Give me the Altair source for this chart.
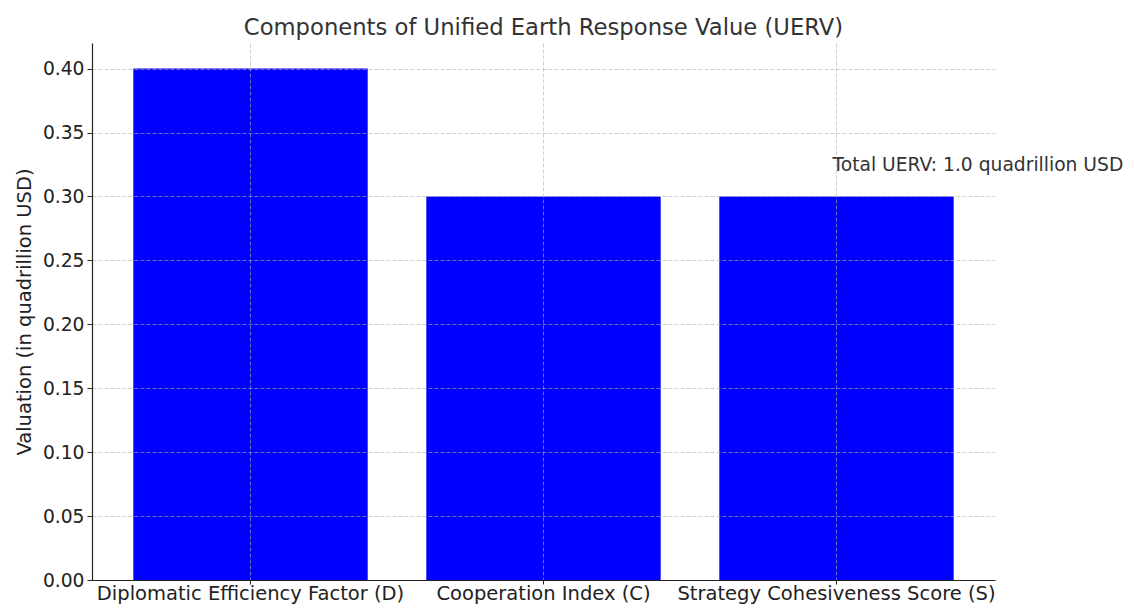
import altair as alt
import pandas as pd

categories = ["Diplomatic Efficiency Factor (D)", "Cooperation Index (C)", "Strategy Cohesiveness Score (S)"]
values = [0.4, 0.3, 0.3]
y_ticks = [0.0, 0.05, 0.10, 0.15, 0.20, 0.25, 0.30, 0.35, 0.40]
note_text = ["Total UERV: 1.0 quadrillion USD"]
note_cat = ["Strategy Cohesiveness Score (S)"]
note_y = [0.32]

df = pd.DataFrame({"cat": categories, "val": values})
note = pd.DataFrame({"cat": note_cat, "val": note_y, "label": note_text})

FONT = "DejaVu Sans"

xscale = alt.Scale(domain=categories, paddingInner=0.2, paddingOuter=0.141)
yscale = alt.Scale(domain=[0, 0.42], nice=False, zero=True)

bars = alt.Chart(df).mark_bar(color="#0000ff").encode(
    x=alt.X("cat:N", scale=xscale, sort=categories,
            axis=alt.Axis(title=None, labelAngle=0, bandPosition=0.5, grid=True,
                          zindex=1, labelLimit=0, labelFontSize=19.5,
                          tickSize=4, labelPadding=0)),
    y=alt.Y("val:Q", scale=yscale,
            axis=alt.Axis(title="Valuation (in quadrillion USD)", values=y_ticks,
                          format=".2f", grid=True, zindex=1)),
)

text = alt.Chart(note).mark_text(align="left", baseline="alphabetic", fontSize=18.7,
                                 font=FONT, color="#333333", dx=-4).encode(
    x=alt.X("cat:N", scale=xscale, sort=categories),
    y=alt.Y("val:Q", scale=yscale),
    text="label:N",
)

chart = (bars + text).properties(
    width=903, height=537,
    title=alt.Title("Components of Unified Earth Response Value (UERV)", fontSize=22.7,
                    font=FONT, fontWeight="normal", color="#333333", offset=3),
    autosize=alt.AutoSizeParams(type="none"),
    padding={"left": 84, "top": 35, "right": 131, "bottom": 25},
).configure_view(stroke=None).configure_axis(
    labelFont=FONT, titleFont=FONT, labelFontSize=18.7, titleFontSize=19.5,
    labelColor="#222222", titleColor="#222222", titleFontWeight="normal",
    domainColor="#222222", tickColor="#222222", tickSize=5, domainWidth=1.2,
    gridColor="#b0b0b0", gridOpacity=0.6, gridDash=[4, 2], gridWidth=1,
    labelPadding=3,
).configure_axisY(titlePadding=8)

chart.save("out.html", embed_options={"renderer": "svg", "actions": False})
